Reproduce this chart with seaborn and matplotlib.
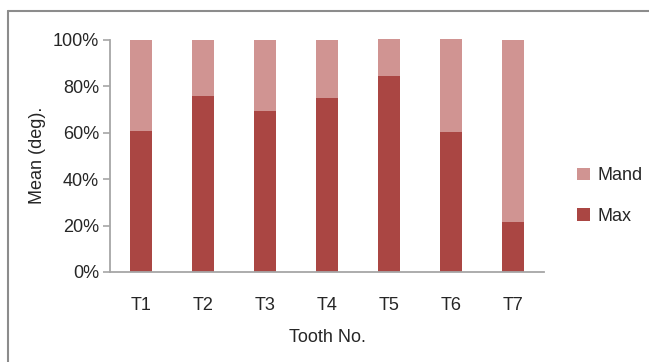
import matplotlib
matplotlib.use("Agg")
import matplotlib.pyplot as plt
from matplotlib.lines import Line2D
from matplotlib.patches import Patch
from matplotlib.ticker import PercentFormatter
import seaborn as sns
import pandas as pd

# Share of mean angulation per tooth, maxillary vs mandibular (fractions)
teeth = ["T1", "T2", "T3", "T4", "T5", "T6", "T7"]
max_share = [0.608, 0.759, 0.694, 0.750, 0.845, 0.603, 0.216]
mand_share = [0.392, 0.241, 0.306, 0.250, 0.159, 0.400, 0.784]
series_names = ["Mand", "Max"]
y_ticks = [0.0, 0.2, 0.4, 0.6, 0.8, 1.0]

max_color = "#AA4643"
mand_color = "#D09492"
axis_gray = "#A6A6A6"
text_color = "#262626"
fs = 13

sns.set_theme(style="white")
plt.rcParams["font.family"] = ["Liberation Sans", "DejaVu Sans"]

df = pd.DataFrame({
    "tooth": teeth,
    "Max": max_share,
    "total": [a + b for a, b in zip(max_share, mand_share)],
})

fig = plt.figure(figsize=(6.49, 3.62), dpi=100)
ax = fig.add_axes([110 / 649, 1 - 272 / 362, 434 / 649, 233.2 / 362])

# Stacked bars: full stack in the light colour, Max drawn over its lower part
sns.barplot(data=df, x="tooth", y="total", color=mand_color, width=0.34,
            saturation=1, ax=ax)
sns.barplot(data=df, x="tooth", y="Max", color=max_color, width=0.34,
            saturation=1, ax=ax)
for p in ax.patches:
    p.set_edgecolor("none")

ax.set_xlim(-0.5, 6.5)
ax.set_ylim(0, 1.005)
ax.set_yticks(y_ticks)
ax.yaxis.set_major_formatter(PercentFormatter(1.0, decimals=0))

for side in ("top", "right"):
    ax.spines[side].set_visible(False)
for side in ("left", "bottom"):
    ax.spines[side].set_color(axis_gray)
    ax.spines[side].set_linewidth(1.3)
ax.spines["left"].set_bounds(0, 1.0)

ax.tick_params(axis="y", which="major", left=True, length=5, width=1.2,
               color=axis_gray, labelsize=fs, labelcolor=text_color, pad=3)
ax.tick_params(axis="x", which="major", bottom=False, labelsize=fs,
               labelcolor=text_color, pad=12)

ax.set_xlabel("Tooth No.", fontsize=fs, color=text_color, labelpad=11)
ax.set_ylabel("Mean (deg).", fontsize=fs, color=text_color, labelpad=5)

handles = [Patch(facecolor=mand_color, edgecolor="none"),
           Patch(facecolor=max_color, edgecolor="none")]
fig.legend(handles, series_names, loc="center left",
           bbox_to_anchor=(561 / 649, 1 - 196 / 362), frameon=False,
           fontsize=fs, handlelength=0.7, handleheight=0.7,
           handletextpad=0.4, labelspacing=1.3, labelcolor=text_color)

# Outer frame lines along the left and top edges
frame_color = "#8C8C8C"
x0, y0 = 8 / 649, 1 - 11 / 362
fig.add_artist(Line2D([x0, x0], [0, y0], color=frame_color, lw=1.5,
                      transform=fig.transFigure))
fig.add_artist(Line2D([x0, 1], [y0, y0], color=frame_color, lw=1.5,
                      transform=fig.transFigure))

fig.savefig("out.png", dpi=100)
